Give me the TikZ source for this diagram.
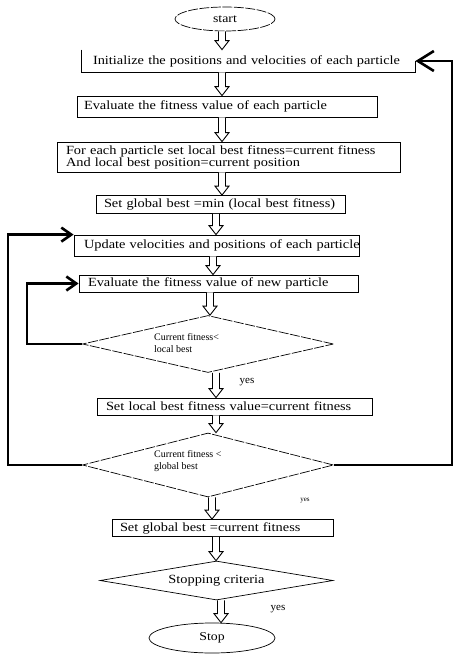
\documentclass[tikz,border=0pt]{standalone}
\usepackage{fontspec}
\setmainfont[FakeStretch=1.15]{Liberation Serif}
\newfontfamily\plainserif{Liberation Serif}
\usetikzlibrary{shapes.geometric,arrows.meta,calc}
\newcommand\harrow[3]{\draw[hollowarr] let \p1=(#2), \p2=(#3) in
  (#1pt-3.5pt,\y1) -- (#1pt-3.5pt,\y2+9pt) -- (#1pt-7pt,\y2+9pt) -- (#1pt,\y2) --
  (#1pt+7pt,\y2+9pt) -- (#1pt+3.5pt,\y2+9pt) -- (#1pt+3.5pt,\y1);}
\begin{document}
\begin{tikzpicture}[x=1pt,y=-1pt,
  box/.style={line width=0.8pt, inner ysep=0pt, align=left, font=\fontsize{12.5}{12}\selectfont},
  bx/.style n args={4}{minimum width=#1pt, minimum height=#2pt, inner xsep=#3pt, text width=#4pt},
  dia/.style={diamond, draw, line width=0.7pt, inner sep=0pt},
  brk/.style={dash pattern=on 10pt off 1.5pt},
  dtext/.style={align=left, inner sep=0pt, font=\plainserif\fontsize{10}{12.5}\selectfont},
  hollowarr/.style={draw, line width=0.9pt, fill=white},
  loopline/.style={line width=2.6pt},
  yeslab/.style={inner sep=0pt, font=\plainserif\fontsize{11}{12}\selectfont}]
\fill[white] (0,0) rectangle (459,663);
\useasboundingbox (0,0) rectangle (459,663);

\node[ellipse, draw, brk, line width=0.7pt, minimum width=100pt, minimum height=24pt, inner sep=0pt, font=\fontsize{12}{12}\selectfont] (start) at (225,19) {start};

\node[box, bx={333}{22}{11}{311}] (b1) at (248.5,61) {\mbox{Initialize the positions and velocities of each particle}};
\draw[line width=0.8pt] (b1.north west) -- (b1.south west) -- (b1.south east) -- (b1.east);
\node[box, draw, bx={300}{21}{7}{286}] (b2) at (227,106.5) {\mbox{Evaluate the fitness value of each particle}};
\node[box, draw, bx={343}{30}{9}{325}] (b3) at (228.5,157) {\mbox{For each particle set local best fitness=current fitness}\\\mbox{And local best position=current position}};
\node[box, draw, bx={249}{18}{8}{233}] (b4) at (220.5,204.5) {\mbox{Set global best =min (local best fitness)}};
\node[box, draw, bx={285}{21}{10}{265}] (b5) at (216.5,245.5) {\mbox{Update velocities and positions of each particle}};
\node[box, draw, bx={279}{17}{9}{261}] (b6) at (218.5,283.5) {\mbox{Evaluate the fitness value of new particle}};

\node[dia, brk, minimum width=251pt, minimum height=57pt] (d1) at (208,344) {};
\node[dtext, anchor=west] (d1t) at (154,343) {Current fitness<\\local best};

\node[yeslab] (y1) at (247,382) {yes};
\node[box, draw, bx={275}{17}{9}{257}] (b7) at (234.5,406.5) {\mbox{Set local best fitness value=current fitness}};

\node[dia, brk, minimum width=251pt, minimum height=64pt] (d2) at (208,465) {};
\node[dtext, anchor=west] (d2t) at (154,461) {Current fitness <\\global best};
\node[yeslab, font=\plainserif\fontsize{7}{8}\selectfont] (y2) at (305,501) {yes};

\node[box, draw, bx={221}{17}{8}{205}] (b8) at (222.5,528) {\mbox{Set global best =current fitness}};

\node[dia, aspect=6, minimum width=233pt, minimum height=39pt, font=\fontsize{12.5}{12}\selectfont] (d3) at (216.5,580.5) {Stopping criteria};
\node[yeslab] (y3) at (278,609) {yes};
\node[ellipse, draw, line width=0.7pt, minimum width=126pt, minimum height=30pt, inner sep=0pt, font=\fontsize{12}{12}\selectfont] (stop) at (212,638) {Stop};

\harrow{222}{start.south}{b1.north}
\harrow{222}{b1.south}{b2.north}
\harrow{222}{b2.south}{b3.north}
\harrow{222}{b3.south}{b4.north}
\harrow{216}{b4.south}{b5.north}
\harrow{213}{b5.south}{b6.north}
\harrow{210}{b6.south}{d1.north}
\harrow{216}{d1.south}{b7.north}
\harrow{216}{b7.south}{d2.north}
\harrow{212}{d2.south}{b8.north}
\harrow{216}{b8.south}{d3.north}
\harrow{221}{d3.south}{stop.north}

\draw[loopline, -{Straight Barb[length=16pt,width=20pt]}] (d2.east) -- ++(118,0) |- (b1.east);
\draw[loopline, -{Straight Barb[length=10pt,width=14pt]}] (d2.west) -- ++(-74,0) |- (b5.north west);
\draw[loopline, -{Straight Barb[length=10pt,width=14pt]}] (d1.west) -- ++(-55,0) |- (b6.west);
\end{tikzpicture}
\end{document}
